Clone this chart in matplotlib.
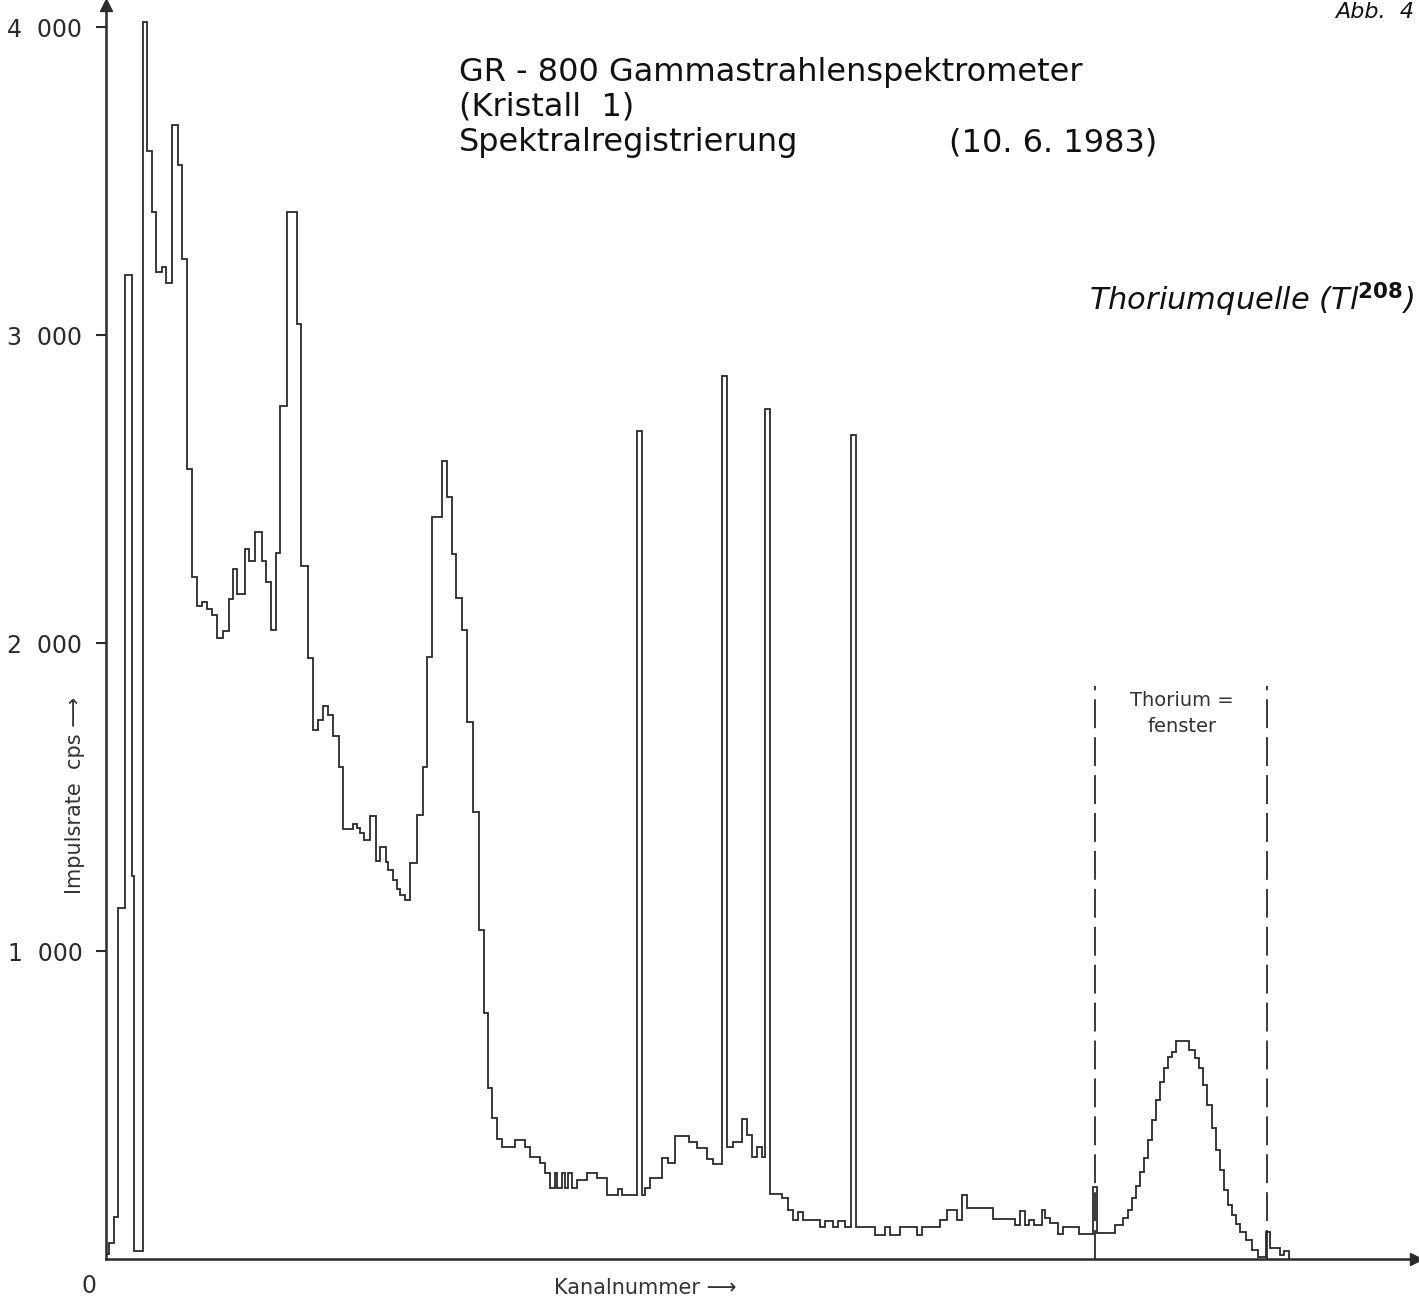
import numpy as np
import matplotlib
matplotlib.use('Agg')
import matplotlib.pyplot as plt

kanal = [0, 3, 8, 12, 19, 26, 28, 37, 41, 46,
         50, 56, 60, 66, 72, 76, 81, 86, 91, 96,
         101, 106, 111, 117, 123, 127, 131, 139, 143, 149,
         156, 160, 165, 170, 174, 181, 191, 195, 202, 207,
         212, 217, 222, 227, 233, 237, 247, 251, 254, 258,
         264, 270, 274, 280, 282, 287, 291, 294, 299, 304,
         311, 317, 321, 326, 336, 341, 346, 350, 356, 361,
         367, 373, 378, 382, 386, 391, 396, 409, 419, 424,
         434, 439, 444, 449, 451, 456, 459, 462, 466, 471,
         481, 491, 501, 512, 516, 531, 536, 539, 544, 556,
         562, 569, 583, 591, 601, 607, 616, 621, 627, 636,
         641, 646, 651, 656, 659, 664, 676, 682, 687, 692,
         697, 714, 719, 727, 732, 739, 745, 750, 769, 779,
         784, 794, 811, 816, 834, 841, 851, 856, 861, 887,
         909, 914, 919, 923, 928, 936, 939, 944, 952, 957,
         973, 987, 991, 1009, 1017, 1022, 1026, 1030, 1034, 1038,
         1042, 1046, 1050, 1054, 1058, 1062, 1066, 1070, 1083, 1089,
         1093, 1097, 1101, 1106, 1110, 1114, 1118, 1122, 1126, 1130,
         1134, 1140, 1146, 1152, 1160, 1164, 1174, 1178, 1183]

cps = [15, 52, 137, 1141, 3195, 1245, 26, 4017, 3598, 3400,
       3204, 3220, 3168, 3682, 3552, 3247, 2565, 2213, 2119, 2135,
       2112, 2090, 2015, 2038, 2142, 2242, 2161, 2304, 2268, 2360,
       2265, 2197, 2044, 2291, 2769, 3400, 3035, 2249, 1953, 1719,
       1749, 1797, 1768, 1697, 1599, 1397, 1411, 1400, 1384, 1362,
       1440, 1294, 1339, 1290, 1264, 1232, 1202, 1183, 1167, 1287,
       1443, 1599, 1956, 2408, 2590, 2473, 2288, 2145, 2044, 1745,
       1450, 1069, 800, 556, 458, 390, 364, 387, 364, 332,
       312, 280, 231, 280, 231, 280, 231, 280, 231, 257,
       280, 263, 208, 228, 208, 2688, 208, 231, 263, 328,
       312, 400, 380, 361, 325, 309, 2867, 364, 380, 455,
       403, 332, 364, 332, 2759, 211, 198, 159, 127, 153,
       127, 104, 124, 104, 124, 104, 2675, 104, 78, 104,
       78, 104, 78, 104, 127, 159, 127, 208, 166, 130,
       110, 156, 110, 127, 110, 159, 133, 117, 81, 104,
       81, 234, 84, 110, 133, 159, 198, 237, 282, 328,
       386, 451, 516, 575, 620, 656, 672, 708, 679, 653,
       620, 565, 500, 425, 354, 289, 224, 175, 143, 114,
       88, 62, 29, 6, 88, 36, 13, 26]

y_ticks = [1000, 2000, 3000, 4000]
y_labels = ['1  000', '2  000', '3  000', '4  000']
fenster = [989, 1161]      # Grenzen Thoriumfenster (Kanal)
fenster_hoehe = 1860

plt.rcParams['font.family'] = 'DejaVu Sans'
plt.rcParams['mathtext.default'] = 'regular'

fig = plt.figure(figsize=(14.19, 12.99), dpi=100)
ax = fig.add_axes([106/1419, 40/1299, 1310/1419, 1254/1299])
ink = '#2b2b2b'

ax.stairs(cps, kanal, baseline=0, color=ink, lw=1.3)

for k in fenster:
    ax.plot([k, k], [0, fenster_hoehe], color=ink, lw=1.3, dashes=(16, 5))

ax.set_xlim(0, 1310)
ax.set_ylim(0, 4072)
for s in ['top', 'right']:
    ax.spines[s].set_visible(False)
for s in ['left', 'bottom']:
    ax.spines[s].set_linewidth(1.8)
    ax.spines[s].set_color(ink)
ax.set_xticks([])
ax.set_yticks(y_ticks)
ax.set_yticklabels(y_labels, fontsize=17, color='#333333')
ax.tick_params(axis='y', length=7, width=1.5, pad=10, colors=ink)

# Pfeilspitzen der Achsen
ax.plot([0], [1], marker='^', color=ink, ms=8, transform=ax.get_xaxis_transform(), clip_on=False)
ax.plot([1], [0], marker='>', color=ink, ms=8, transform=ax.get_yaxis_transform(), clip_on=False)

ax.text(-0.007, -0.012, '0', transform=ax.transAxes, fontsize=17, color='#333333',
        ha='right', va='top')

fig.text(459/1419, 1 - 72/1299, 'GR - 800 Gammastrahlenspektrometer', fontsize=23,
         va='center', ha='left', color='#111111')
fig.text(459/1419, 1 - 107/1299, '(Kristall  1)', fontsize=23, va='center', ha='left',
         color='#111111')
fig.text(459/1419, 1 - 143/1299, 'Spektralregistrierung', fontsize=23, va='center',
         ha='left', color='#111111')
fig.text(1157/1419, 1 - 143/1299, '(10. 6. 1983)', fontsize=23, va='center', ha='right',
         color='#111111')
fig.text(1414/1419, 1 - 300/1299, r'Thoriumquelle (Tl$^{\bf 208}$)', fontsize=22,
         style='italic', va='center', ha='right', color='#111111')
fig.text(1414/1419, 1 - 2/1299, 'Abb.  4', fontsize=16, style='italic', va='top', ha='right',
         color='#111111')

fig.text(1182/1419, 1 - 700/1299, 'Thorium =', fontsize=14, va='center', ha='center',
         color='#333333')
fig.text(1182/1419, 1 - 726/1299, 'fenster', fontsize=14, va='center', ha='center',
         color='#333333')

fig.text(75/1419, 1 - 795/1299, 'Impulsrate  cps \u27f6', fontsize=15, rotation=90,
         va='center', ha='center', color='#333333')
fig.text(645/1419, 1 - 1288/1299, 'Kanalnummer \u27f6', fontsize=15, va='center',
         ha='center', color='#333333')

fig.savefig('out.png', dpi=100, facecolor='white')
